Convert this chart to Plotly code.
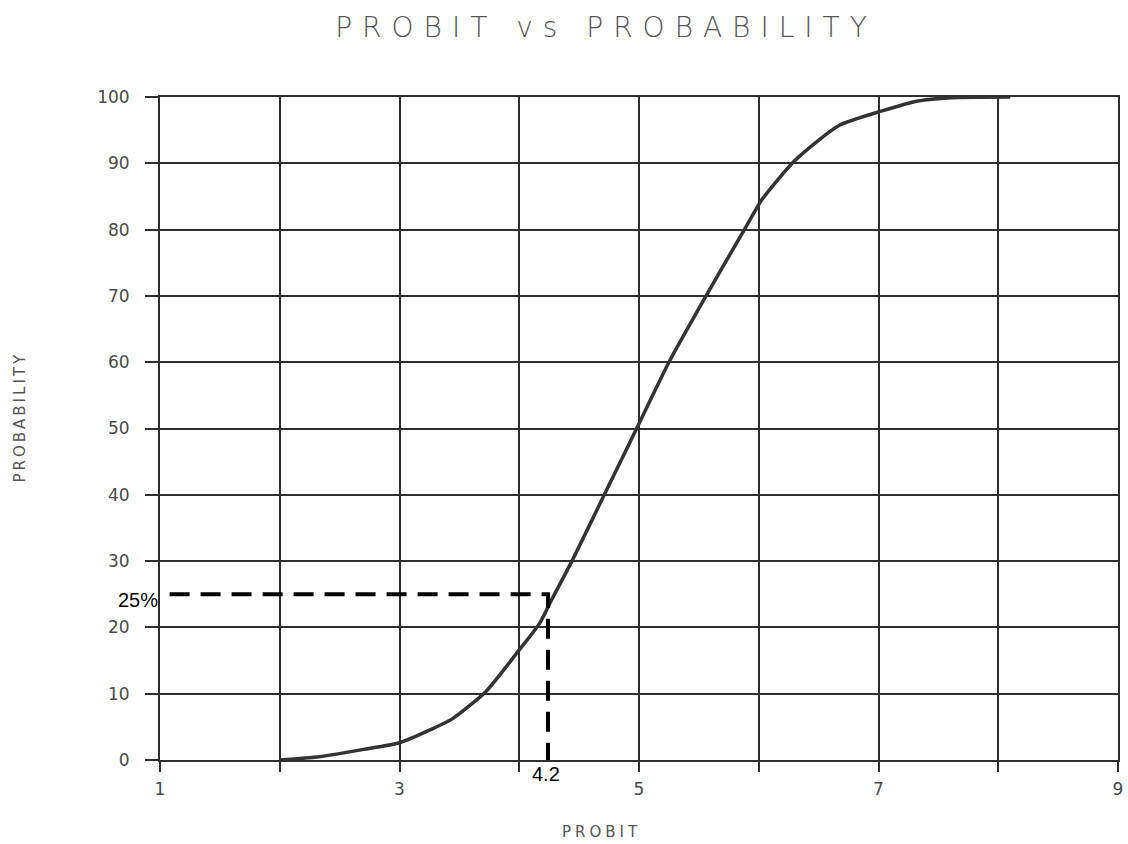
import plotly.graph_objects as go

# Curve: probit vs probability (%)
probit = [2.0, 2.33, 2.7, 3.0, 3.25, 3.44, 3.72, 4.0, 4.17, 4.28, 4.44, 4.71,
          4.98, 5.25, 5.56, 5.88, 6.03, 6.3, 6.67, 7.03, 7.33, 7.61, 8.1]
probability = [0.0, 0.5, 1.6, 2.6, 4.5, 6.2, 10.3, 16.6, 20.6, 24.5, 30.0, 40.0,
               50.0, 60.0, 70.0, 80.0, 84.6, 90.4, 95.7, 97.9, 99.4, 99.9, 100.0]

# Reading guide for the 25% point
guide_x = [1.08, 4.24, 4.24]
guide_y = [25, 25, 0]

x_tickvals = [1, 2, 3, 4, 5, 6, 7, 8, 9]
x_ticktext = ["1", "", "3", "", "5", "", "7", "", "9"]
y_tickvals = [0, 10, 20, 30, 40, 50, 60, 70, 80, 90, 100]

GRID = "#2e2e2e"
TXT = "#4a4a4a"

fig = go.Figure()
fig.add_trace(go.Scatter(x=probit, y=probability, mode="lines",
                         line=dict(color="#333333", width=3.5, shape="spline", smoothing=0.6),
                         showlegend=False, hoverinfo="skip"))
fig.add_trace(go.Scatter(x=guide_x, y=guide_y, mode="lines",
                         line=dict(color="black", width=4, dash="20px,11px"),
                         showlegend=False, hoverinfo="skip", cliponaxis=False))

fig.update_layout(
    width=1128, height=844, autosize=False,
    paper_bgcolor="white", plot_bgcolor="white",
    margin=dict(l=160, r=10, t=97, b=84, autoexpand=False),
    title=dict(text="PROBIT vs PROBABILITY", x=606 / 1128, xanchor="center",
               y=1 - 27 / 844, yanchor="middle",
               font=dict(family="DejaVu Sans", size=28, color="#555555", weight=200)),
    xaxis=dict(range=[1, 9], tickmode="array", tickvals=x_tickvals, ticktext=x_ticktext,
               automargin=False,
               showgrid=True, gridcolor=GRID, gridwidth=2,
               showline=True, linecolor=GRID, linewidth=2, mirror=True,
               ticks="outside", ticklen=10, tickwidth=2, tickcolor=GRID,
               ticklabelstandoff=3, zeroline=False,
               tickfont=dict(family="DejaVu Sans", size=17, color=TXT)),
    yaxis=dict(range=[0, 100], tickmode="array", tickvals=y_tickvals,
               automargin=False,
               showgrid=True, gridcolor=GRID, gridwidth=2,
               showline=True, linecolor=GRID, linewidth=2, mirror=True,
               ticks="outside", ticklen=13, tickwidth=2, tickcolor=GRID,
               ticklabelstandoff=12, zeroline=False,
               tickfont=dict(family="DejaVu Sans", size=17, color=TXT)),
    annotations=[
        dict(text="PROBIT", xref="paper", yref="paper", x=(602 - 160) / 958, y=(760 - 832) / 663,
             showarrow=False, xanchor="center", yanchor="middle",
             font=dict(family="DejaVu Sans", size=15, color="#555555")),
        dict(text="PROBABILITY", xref="paper", yref="paper", x=(20 - 160) / 958, y=(760 - 417) / 663,
             showarrow=False, xanchor="center", yanchor="middle", textangle=-90,
             font=dict(family="DejaVu Sans", size=15, color="#555555")),
        dict(text="25%", xref="paper", yref="y", x=(138 - 160) / 958, y=24.2,
             showarrow=False, xanchor="center", yanchor="middle",
             font=dict(family="Liberation Sans", size=20, color="black")),
        dict(text="4.2", xref="x", yref="paper", x=4.22, y=(760 - 774) / 663,
             showarrow=False, xanchor="center", yanchor="middle",
             font=dict(family="Liberation Sans", size=20, color="black")),
    ],
)

post = """
document.body.style.margin = '0px';
document.querySelectorAll('.gtitle').forEach(function(e){ e.style.letterSpacing = '10px'; });
var ann = document.querySelectorAll('.annotation-text');
if (ann.length > 0) { ann[0].style.letterSpacing = '4px'; }
if (ann.length > 1) { ann[1].style.letterSpacing = '3px'; }
"""

fig.write_html("out.html", post_script=post, config={"displayModeBar": False})
